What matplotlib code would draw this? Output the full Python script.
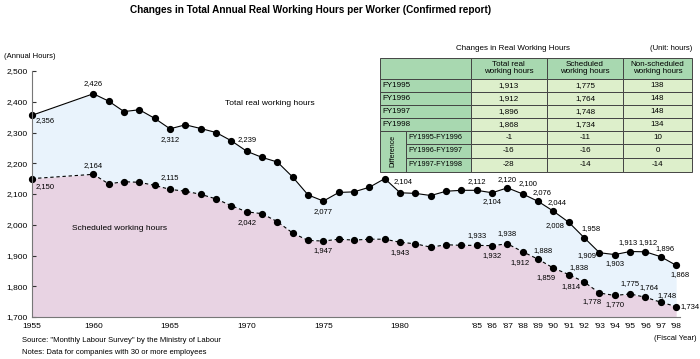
import matplotlib.pyplot as plt
import numpy as np
from matplotlib.patches import Rectangle

plt.rcParams['font.family'] = ['Liberation Sans', 'DejaVu Sans']

# data
years = [1955, 1960, 1961, 1962, 1963, 1964, 1965, 1966, 1967, 1968, 1969, 1970,
         1971, 1972, 1973, 1974, 1975, 1976, 1977, 1978, 1979, 1980, 1981, 1982,
         1983, 1984, 1985, 1986, 1987, 1988, 1989, 1990, 1991, 1992, 1993, 1994,
         1995, 1996, 1997, 1998]
total_hours = [2356, 2426, 2402, 2368, 2374, 2346, 2312, 2325, 2313, 2300, 2273, 2239,
               2219, 2204, 2155, 2097, 2077, 2105, 2107, 2122, 2150, 2104, 2102, 2095,
               2109, 2112, 2112, 2104, 2120, 2100, 2076, 2044, 2008, 1958, 1909, 1903,
               1913, 1912, 1896, 1868]
sched_hours = [2150, 2164, 2133, 2140, 2138, 2128, 2115, 2109, 2099, 2084, 2062, 2042,
               2036, 2010, 1973, 1949, 1947, 1953, 1950, 1953, 1953, 1943, 1938, 1927,
               1935, 1933, 1933, 1932, 1938, 1912, 1888, 1859, 1838, 1814, 1778, 1770,
               1775, 1764, 1748, 1734]
tick_years = [1955, 1960, 1965, 1970, 1975, 1980, 1985, 1986, 1987, 1988, 1989, 1990,
              1991, 1992, 1993, 1994, 1995, 1996, 1997, 1998]
tick_labels = ['1955', '1960', '1965', '1970', '1975', '1980', "'85", "'86", "'87", "'88",
               "'89", "'90", "'91", "'92", "'93", "'94", "'95", "'96", "'97", "'98"]

# label offsets (pixels) for the annotated points
total_lab = {1955: (4, -5, 'left'), 1960: (0, 10, 'center'), 1965: (0, -11, 'center'),
             1970: (0, 12, 'center'), 1975: (0, -10, 'center'), 1980: (3, 11, 'center'),
             1985: (0, 9, 'center'), 1986: (0, -9, 'center'), 1987: (0, 8, 'center'),
             1988: (5, 10, 'center'), 1989: (4, 9, 'center'), 1990: (4, 9, 'center'),
             1991: (-14, -3, 'center'), 1992: (7, 9, 'center'), 1993: (-13, -3, 'center'),
             1994: (0, -9, 'center'), 1995: (-2, 9, 'center'), 1996: (3, 9, 'center'),
             1997: (4, 8, 'center'), 1998: (4, -9, 'center')}
sched_lab = {1955: (4, -8, 'left'), 1960: (0, 9, 'center'), 1965: (0, 12, 'center'),
             1970: (0, -11, 'center'), 1975: (0, -9, 'center'), 1980: (0, -10, 'center'),
             1985: (0, 10, 'center'), 1986: (0, -10, 'center'), 1987: (0, 10, 'center'),
             1988: (-3, -11, 'center'), 1989: (5, 9, 'center'), 1990: (-7, -9, 'center'),
             1991: (10, 7, 'center'), 1992: (-13, -5, 'center'), 1993: (-7, -9, 'center'),
             1994: (0, -9, 'center'), 1995: (0, 10, 'center'), 1996: (4, 10, 'center'),
             1997: (6, 7, 'center'), 1998: (4, 0, 'left')}

# table data
tab_rows = ['FY1995', 'FY1996', 'FY1997', 'FY1998']
tab_total = [1913, 1912, 1896, 1868]
tab_sched = [1775, 1764, 1748, 1734]
tab_non = [138, 148, 148, 134]
diff_rows = ['FY1995-FY1996', 'FY1996-FY1997', 'FY1997-FY1998']
diff_total = [-1, -16, -28]
diff_sched = [-11, -16, -14]
diff_non = [10, 0, -14]
tab_head = ['Total real\nworking hours', 'Scheduled\nworking hours', 'Non-scheduled\nworking hours']

W, H = 700, 359
fig = plt.figure(figsize=(7, 3.59), dpi=100)


def box(x0, y0, x1, y1):
    # pixel box (top-left origin) -> figure fraction
    return [x0 / W, 1 - y1 / H, (x1 - x0) / W, (y1 - y0) / H]


# 1955 is squeezed in next to 1960 on the original axis
xpos = np.array([1956 if y == 1955 else y for y in years], dtype=float)
tot = np.array(total_hours)
sch = np.array(sched_hours)

ax = fig.add_axes(box(32, 71, 680, 317))
ax.fill_between(xpos, sch, tot, color='#e9f3fc', lw=0)
ax.fill_between(xpos, 1700, sch, color='#e8d3e3', lw=0)
ax.plot(xpos, tot, '-', color='black', lw=0.8, marker='o', ms=4.2, clip_on=False)
ax.plot(xpos, sch, color='black', lw=0.8, ls=(0, (3, 2.5)), marker='o', ms=4.2, clip_on=False)

for yr, d in total_lab.items():
    i = years.index(yr)
    ax.annotate(f'{total_hours[i]:,}', (xpos[i], tot[i]), xytext=d[:2],
                textcoords='offset pixels', ha=d[2], va='center', fontsize=5.5)
for yr, d in sched_lab.items():
    i = years.index(yr)
    ax.annotate(f'{sched_hours[i]:,}', (xpos[i], sch[i]), xytext=d[:2],
                textcoords='offset pixels', ha=d[2], va='center', fontsize=5.5)

ax.set_xlim(1956, 1998.25)
ax.set_ylim(1700, 2500)
ax.set_yticks(range(1700, 2501, 100))
ax.set_yticklabels([f'{v:,}' for v in range(1700, 2501, 100)], fontsize=6)
ax.set_xticks([1956 if y == 1955 else y for y in tick_years])
ax.set_xticklabels(tick_labels, fontsize=6)
ax.tick_params(axis='y', direction='in', length=3, width=0.8, pad=3, colors='#333333', labelcolor='black')
ax.tick_params(axis='x', length=0, pad=4)
for s in ['top', 'right']:
    ax.spines[s].set_visible(False)
ax.spines['left'].set_color('#777777')
ax.spines['bottom'].set_color('#777777')

ax.text(1971.5, 2393, 'Total real working hours', fontsize=6, ha='center', va='center')
ax.text(1961.7, 1988, 'Scheduled working hours', fontsize=6, ha='center', va='center')

fig.text(311 / W, 1 - 10 / H, 'Changes in Total Annual Real Working Hours per Worker (Confirmed report)',
         fontsize=7.2, fontweight='bold', ha='center', va='center')
fig.text(4 / W, 1 - 57 / H, '(Annual Hours)', fontsize=5.5, ha='left', va='center')
fig.text(697 / W, 1 - 338 / H, '(Fiscal Year)', fontsize=5.5, ha='right', va='center')
fig.text(22 / W, 1 - 341 / H, 'Source: "Monthly Labour Survey" by the Ministry of Labour', fontsize=5.5, va='center')
fig.text(22 / W, 1 - 352 / H, 'Notes: Data for companies with 30 or more employees', fontsize=5.5, va='center')

# table
fig.text(513 / W, 1 - 48 / H, 'Changes in Real Working Hours', fontsize=5.8, ha='center', va='center')
fig.text(692 / W, 1 - 49 / H, '(Unit: hours)', fontsize=5.5, ha='right', va='center')

tx = fig.add_axes(box(380, 57.7, 692, 171.7))
tx.set_xlim(380, 692)
tx.set_ylim(171.7, 57.7)
tx.axis('off')
dark = '#a8d8b0'
light = '#ddefcb'
edge = '#444444'
col_x = [380, 471, 546.7, 623.3, 692]
row_y = [57.7, 79, 92, 105, 118, 131, 144, 157.5, 171.7]
sub_x = 406


def cell(x0, y0, x1, y1, fc, txt='', ha='center', fs=5.8, rot=0):
    tx.add_patch(Rectangle((x0, y0), x1 - x0, y1 - y0, fc=fc, ec=edge, lw=0.7, clip_on=False))
    if txt:
        xt = x0 + 2.5 if ha == 'left' else (x0 + x1) / 2
        tx.text(xt, (y0 + y1) / 2, txt, ha=ha, va='center', fontsize=fs, rotation=rot,
                linespacing=1.0)


cell(col_x[0], row_y[0], col_x[1], row_y[1], dark)
for j, h in enumerate(tab_head):
    cell(col_x[j + 1], row_y[0], col_x[j + 2], row_y[1], dark, h)
for i, r in enumerate(tab_rows):
    y0, y1 = row_y[i + 1], row_y[i + 2]
    cell(col_x[0], y0, col_x[1], y1, dark, r, ha='left')
    for j, v in enumerate([tab_total[i], tab_sched[i], tab_non[i]]):
        cell(col_x[j + 1], y0, col_x[j + 2], y1, light, f'{v:,}')
cell(col_x[0], row_y[5], sub_x, row_y[8], dark, 'Difference', fs=5, rot=90)
for i, r in enumerate(diff_rows):
    y0, y1 = row_y[i + 5], row_y[i + 6]
    cell(sub_x, y0, col_x[1], y1, dark, r, ha='left', fs=5.2)
    for j, v in enumerate([diff_total[i], diff_sched[i], diff_non[i]]):
        cell(col_x[j + 1], y0, col_x[j + 2], y1, light, f'{v:,}')

plt.savefig('out.png', dpi=100)
plt.close()
